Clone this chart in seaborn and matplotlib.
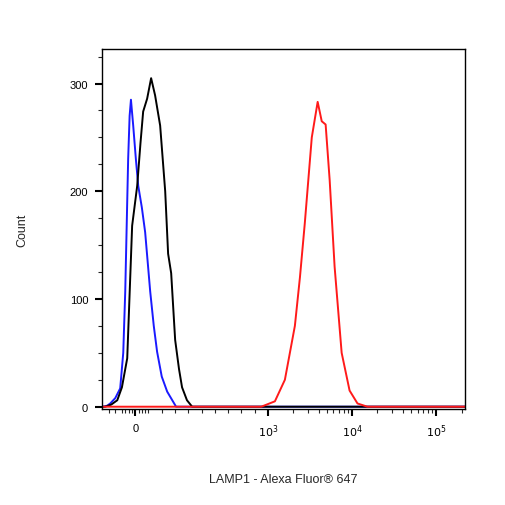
import numpy as np
import matplotlib
matplotlib.use("Agg")
import matplotlib.pyplot as plt
import seaborn as sns
import pandas as pd
from matplotlib.ticker import FixedLocator, NullFormatter

sns.set_theme(style="ticks")
plt.rcParams["font.family"] = ["Liberation Sans", "DejaVu Sans"]

# fluorescence values (biexponential-ish axis) and counts
blue_x = [-250, -241, -210, -188, -150, -113, -90, -75, -53, -42, -32, -15, 5, 23, 50, 75, 113, 140, 165, 200, 241, 308, 220000]
blue_y = [0, 0, 1, 3, 8, 17, 50, 107, 230, 270, 285, 261, 230, 205, 185, 162, 107, 75, 51, 28, 14, 0, 0]
black_x = [-250, -226, -180, -135, -100, -60, -23, 15, 40, 60, 90, 120, 150, 188, 226, 248, 271, 301, 330, 353, 390, 429, 220000]
black_y = [0, 0, 2, 6, 18, 45, 168, 205, 245, 274, 286, 305, 289, 261, 200, 142, 124, 62, 35, 18, 6, 0, 0]
red_x = [-250, 950, 1210, 1590, 2090, 2400, 2740, 3320, 3900, 4360, 4850, 5420, 6200, 7520, 9340, 11600, 15200, 220000]
red_y = [0, 0, 5, 25, 75, 120, 170, 250, 283, 265, 262, 210, 130, 50, 15, 3, 0, 0]

fig = plt.figure(figsize=(5.06, 5.06), dpi=100)
ax = fig.add_axes([0.2016, 0.19, 0.7174, 0.711])

for xs, ys, c in [(blue_x, blue_y, "#1a1aff"), (black_x, black_y, "black"), (red_x, red_y, "#ff1a1a")]:
    sns.lineplot(x=xs, y=ys, ax=ax, color=c, lw=1.4, sort=False, estimator=None)

ax.set_xscale("symlog", linthresh=1000, linscale=1.42)
ax.set_xlim(-250, 220000)
ax.set_ylim(-2, 332)

ax.xaxis.set_major_locator(FixedLocator([0, 1e3, 1e4, 1e5]))
ax.set_xticklabels(["0", r"$10^3$", r"$10^4$", r"$10^5$"])
minor = [-200, -150, -100, -75, -50, -25, 25, 50, 75, 100, 200, 300, 400, 500, 600, 700, 800, 900]
minor += [m * 10**e for e in (3, 4) for m in range(2, 10)] + [2e5]
ax.xaxis.set_minor_locator(FixedLocator(minor))
ax.xaxis.set_minor_formatter(NullFormatter())

ax.yaxis.set_major_locator(FixedLocator([0, 100, 200, 300]))
ax.yaxis.set_minor_locator(FixedLocator([25, 50, 75, 125, 150, 175, 225, 250, 275, 325]))

ax.tick_params(which="major", direction="out", length=5, width=1.5, labelsize=8, colors="black", pad=5)
ax.tick_params(which="minor", direction="out", length=3, width=0.8)
for s in ax.spines.values():
    s.set_linewidth(1.0)
    s.set_color("black")

ax.set_xlabel("LAMP1 - Alexa Fluor® 647", fontsize=9, labelpad=24)
ax.set_ylabel("Count", fontsize=9, labelpad=30)

fig.savefig("out.png", dpi=100)
